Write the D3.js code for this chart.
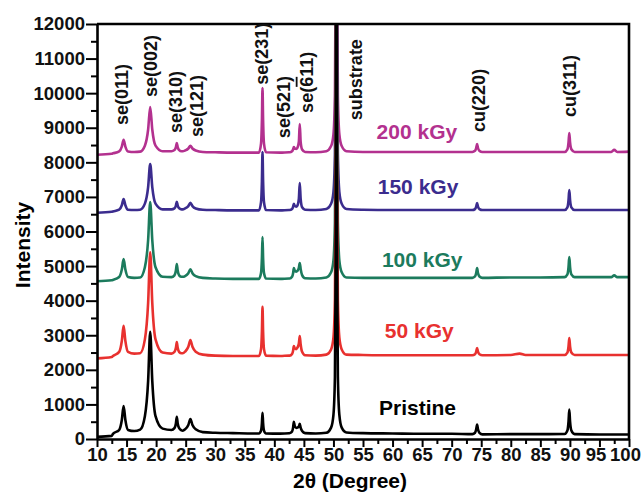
<!DOCTYPE html>
<html>
<head>
<meta charset="utf-8">
<script src="https://cdn.jsdelivr.net/npm/d3@7"></script>
<style>
  body { margin: 0; background: #fff; }
  svg { display: block; font-family: "Liberation Sans", Arial, sans-serif; }
  .axis path, .axis line { stroke: #000; }
  .axis .domain { stroke-width: 2.6; }
  .axis .tick line { stroke-width: 2; }
  .axis .tick text { font-size: 18.5px; font-weight: bold; fill: #111; }
</style>
</head>
<body>
<svg width="643" height="494"></svg>
<script>

// ---- dados: [2theta, intensidade] ----

const pristine = [
  [10,60],[12.5,90],
  [12.7,150],[13.75,262],[14.2,550],[14.5,950],[14.8,550],[15.25,262],[16.3,230],
  [17.3,270],[18.1,660],[18.65,1680],[19.0,3100],[19.35,1680],[19.9,660],[21.1,300],
  [22.6,260],[23.1,313],[23.35,450],[23.5,640],[23.65,450],[23.9,313],[24.3,250],
  [24.5,240],[24.9,280],[25.45,405],[25.8,580],[26.15,405],[26.7,280],[27.9,200],
  [30,180],[33,170],[36.5,160],
  [37.4,160],[37.75,244],[37.9,460],[38.0,760],[38.1,460],[38.25,244],[38.6,160],
  [41,155],[42.5,165],
  [42.6,170],[43.0,220],[43.18,335],[43.3,500],[43.45,380],[43.7,320],[43.9,330],[44.15,360],[44.3,440],[44.45,330],[44.7,230],[45.2,170],
  [47,160],[48.8,180],
  [49.6,330],[50.0,700],[50.25,1800],[50.38,5000],[50.44,12000],[50.5,40000],
  [50.56,12000],[50.62,5000],[50.75,1800],[51.0,700],[51.4,330],[52.2,190],
  [55,170],[60,160],[65,150],[70,150],
  [73.5,140],[73.95,180],[74.15,280],[74.3,420],[74.45,280],[74.7,180],[75.2,135],
  [80,140],[85,140],
  [89.1,145],[89.58,244],[89.77,500],[89.9,850],[90.03,500],[90.25,244],[90.8,140],
  [95,130],[100,130]
];

const kgy50 = [
  [10,2330],[12.5,2370],
  [12.7,2400],[13.75,2520],[14.2,2835],[14.5,3270],[14.8,2835],[15.25,2520],[16.3,2470],
  [17.3,2480],[18.1,2880],[18.65,3935],[19.0,5400],[19.35,3935],[19.9,2880],[21.1,2500],
  [22.6,2470],[23.1,2516],[23.35,2635],[23.5,2800],[23.65,2635],[23.9,2516],[24.3,2480],
  [24.5,2480],[24.9,2525],[25.45,2665],[25.8,2860],[26.15,2665],[26.7,2525],[27.9,2440],
  [30,2410],[33,2400],[36.5,2400],
  [37.4,2400],[37.75,2600],[37.9,3110],[38.0,3820],[38.1,3110],[38.25,2600],[38.6,2410],
  [41,2400],[42.5,2410],
  [42.6,2410],[43.0,2460],[43.18,2560],[43.3,2690],[43.45,2620],[43.7,2600],[43.9,2640],[44.15,2760],[44.3,2980],[44.45,2740],[44.7,2520],[45.2,2420],
  [47,2410],[48.8,2440],
  [49.6,2590],[50.0,2930],[50.25,4030],[50.4,8430],[50.46,17430],[50.5,32430],
  [50.54,17430],[50.6,8430],[50.75,4030],[51.0,2930],[51.4,2590],[52.2,2440],
  [55,2430],[60,2420],[65,2420],[70,2420],
  [73.5,2420],[73.95,2450],[74.15,2525],[74.3,2630],[74.45,2525],[74.7,2450],[75.2,2420],
  [80,2430],[81.5,2470],[82.5,2430],[85,2430],
  [89.1,2430],[89.58,2500],[89.77,2675],[89.9,2920],[90.03,2675],[90.25,2500],[90.8,2430],
  [95,2430],[100,2430]
];

const kgy100 = [
  [10,4560],[12.5,4590],
  [12.7,4600],[13.75,4684],[14.2,4900],[14.5,5200],[14.8,4900],[15.25,4684],[16.3,4660],
  [17.3,4670],[18.1,4967],[18.65,5755],[19.0,6850],[19.35,5755],[19.9,4967],[21.1,4690],
  [22.6,4680],[23.1,4733],[23.35,4870],[23.5,5060],[23.65,4870],[23.9,4733],[24.3,4690],
  [24.5,4690],[24.9,4712],[25.45,4795],[25.8,4910],[26.15,4795],[26.7,4712],[27.9,4660],
  [30,4640],[33,4630],[36.5,4630],
  [37.4,4630],[37.75,4800],[37.9,5235],[38.0,5840],[38.1,5235],[38.25,4800],[38.6,4640],
  [41,4630],[42.5,4640],
  [42.6,4640],[43.0,4690],[43.18,4800],[43.3,4940],[43.45,4870],[43.7,4840],[43.9,4860],[44.15,4950],[44.3,5090],[44.45,4920],[44.7,4740],[45.2,4650],
  [47,4640],[48.8,4670],
  [49.6,4820],[50.0,5160],[50.25,6260],[50.4,10660],[50.46,19660],[50.5,34660],
  [50.54,19660],[50.6,10660],[50.75,6260],[51.0,5160],[51.4,4820],[52.2,4670],
  [55,4660],[60,4660],[65,4660],[70,4660],
  [73.5,4660],[73.95,4700],[74.15,4800],[74.3,4940],[74.45,4800],[74.7,4700],[75.2,4660],
  [80,4670],[85,4670],
  [89.1,4680],[89.58,4760],[89.77,4970],[89.9,5260],[90.03,4970],[90.25,4760],[90.8,4680],
  [95,4680],[97,4680],[97.5,4730],[98,4680],[100,4680]
];

const kgy150 = [
  [10,6540],[12.5,6570],
  [12.7,6580],[13.75,6630],[14.2,6760],[14.5,6940],[14.8,6760],[15.25,6630],[16.3,6620],
  [17.3,6630],[18.1,6806],[18.65,7285],[19.0,7950],[19.35,7285],[19.9,6806],[21.1,6640],
  [22.6,6640],[23.1,6670],[23.35,6750],[23.5,6860],[23.65,6750],[23.9,6670],[24.3,6640],
  [24.5,6640],[24.9,6667],[25.45,6735],[25.8,6830],[26.15,6735],[26.7,6667],[27.9,6630],
  [30,6620],[33,6610],[36.5,6610],
  [37.4,6610],[37.75,6847],[37.9,7455],[38.0,8300],[38.1,7455],[38.25,6847],[38.6,6620],
  [41,6610],[42.5,6620],
  [42.6,6620],[43.0,6650],[43.18,6720],[43.3,6800],[43.45,6740],[43.7,6720],[43.9,6750],[44.15,6950],[44.3,7400],[44.45,6950],[44.7,6700],[45.2,6630],
  [47,6620],[48.8,6650],
  [49.6,6800],[50.0,7140],[50.25,8240],[50.4,12640],[50.46,21640],[50.5,36640],
  [50.54,21640],[50.6,12640],[50.75,8240],[51.0,7140],[51.4,6800],[52.2,6650],
  [55,6630],[60,6620],[65,6620],[70,6620],
  [73.5,6620],[73.95,6648],[74.15,6720],[74.3,6820],[74.45,6720],[74.7,6648],[75.2,6620],
  [80,6620],[85,6620],
  [89.1,6620],[89.58,6700],[89.77,6910],[89.9,7200],[90.03,6910],[90.25,6700],[90.8,6620],
  [95,6620],[100,6620]
];

const kgy200 = [
  [10,8220],[12.5,8250],
  [12.7,8260],[13.75,8315],[14.2,8455],[14.5,8650],[14.8,8455],[15.25,8315],[16.3,8300],
  [17.3,8310],[18.1,8482],[18.65,8950],[19.0,9600],[19.35,8950],[19.9,8482],[21.1,8320],
  [22.6,8320],[23.1,8354],[23.35,8440],[23.5,8560],[23.65,8440],[23.9,8354],[24.3,8320],
  [24.5,8320],[24.9,8342],[25.45,8400],[25.8,8480],[26.15,8400],[26.7,8342],[27.9,8300],
  [30,8290],[33,8280],[36.5,8280],
  [37.4,8280],[37.75,8542],[37.9,9215],[38.0,10150],[38.1,9215],[38.25,8542],[38.6,8290],
  [41,8280],[42.5,8290],
  [42.6,8290],[43.0,8320],[43.18,8380],[43.3,8440],[43.45,8400],[43.7,8390],[43.9,8420],[44.15,8600],[44.3,9110],[44.45,8600],[44.7,8370],[45.2,8300],
  [47,8290],[48.8,8320],
  [49.6,8470],[50.0,8810],[50.25,9910],[50.4,14310],[50.46,23310],[50.5,38310],
  [50.54,23310],[50.6,14310],[50.75,9910],[51.0,8810],[51.4,8470],[52.2,8320],
  [55,8300],[60,8300],[65,8300],[70,8300],
  [73.5,8300],[73.95,8332],[74.15,8415],[74.3,8530],[74.45,8415],[74.7,8332],[75.2,8300],
  [80,8300],[85,8300],
  [89.1,8300],[89.58,8377],[89.77,8575],[89.9,8850],[90.03,8575],[90.25,8377],[90.8,8300],
  [95,8300],[97,8300],[97.5,8360],[98,8300],[100,8310]
];

// ordem de desenho: de cima para baixo, pristine por ultimo (fica na frente)
const seriesNames = ["200 kGy", "150 kGy", "100 kGy", "50 kGy", "Pristine"];
const seriesData  = [kgy200, kgy150, kgy100, kgy50, pristine];
// onde fica o rotulo de cada serie [2theta, intensidade]
const seriesLabelAt = [[57.3, 8680], [57.5, 7070], [58.2, 4980], [58.7, 2920], [57.7, 694]];

const xTicks = [10,15,20,25,30,35,40,45,50,55,60,65,70,75,80,85,90,95,100];
const xMinorTicks = [12.5,17.5,22.5,27.5,32.5,37.5,42.5,47.5,52.5,57.5,62.5,67.5,72.5,77.5,82.5,87.5,92.5,97.5];
const yTicks = [0,1000,2000,3000,4000,5000,6000,7000,8000,9000,10000,11000,12000];
const yMinorTicks = [500,1500,2500,3500,4500,5500,6500,7500,8500,9500,10500,11500];

// picos indexados: texto, 2theta do rotulo, intensidade da base do rotulo
const peakLabels = ["se(011)", "se(002)", "se(310)", "se(121)", "se(231)", "se(521)", "se(611)", "substrate", "cu(220)", "cu(311)"];
const peakLabelTheta = [14.2, 19.0, 23.2, 26.9, 37.9, 41.5, 45.4, 53.7, 74.5, 90.0];
const peakLabelBase = [9080, 9890, 8850, 8730, 10240, 8700, 9430, 9220, 8880, 9310];

const vis = {

    params : {
        largura: 643,
        altura: 494,
        margem: { left: 97, right: 14, top: 24, bottom: 55 },
        cores: ["#b3318f", "#3b2c8e", "#1c7b5d", "#e8312f", "#000000"],
        espessura: 2.6
    },

    scales : { x: null, y: null },

    draw : {

        eixos : function(svg) {

            const x = vis.scales.x, y = vis.scales.y;

            const eixoX = svg.append("g").attr("class", "axis")
              .attr("transform", `translate(0,${y(0)})`)
              .call(d3.axisBottom(x).tickValues(xTicks).tickSize(8).tickPadding(1).tickSizeOuter(0));

            // os dois ultimos rotulos ficam apertados na borda
            eixoX.selectAll(".tick text")
              .attr("dx", d => d >= 95 ? -4 : 0);

            svg.append("g").attr("class", "axis")
              .attr("transform", `translate(0,${y(0)})`)
              .call(d3.axisBottom(x).tickValues(xMinorTicks).tickSize(5).tickFormat("").tickSizeOuter(0))
              .select(".domain").remove();

            svg.append("g").attr("class", "axis")
              .attr("transform", `translate(${x(10)},0)`)
              .call(d3.axisLeft(y).tickValues(yTicks).tickSize(11).tickPadding(1).tickSizeOuter(0).tickFormat(d3.format("d")));

            svg.append("g").attr("class", "axis")
              .attr("transform", `translate(${x(10)},0)`)
              .call(d3.axisLeft(y).tickValues(yMinorTicks).tickSize(6).tickFormat("").tickSizeOuter(0))
              .select(".domain").remove();

            // moldura de cima e da direita
            svg.append("path")
              .attr("d", `M${x(10)},${y(12000)}H${x(100)}V${y(0)}`)
              .attr("fill", "none")
              .attr("stroke", "#000")
              .attr("stroke-width", 2.6);

            svg.append("text")
              .attr("x", (x(10) + x(100)) / 2 - 13)
              .attr("y", 488)
              .attr("text-anchor", "middle")
              .attr("font-size", 21)
              .attr("font-weight", "bold")
              .text("2θ (Degree)");

            svg.append("text")
              .attr("transform", `translate(30,245) rotate(-90)`)
              .attr("text-anchor", "middle")
              .attr("font-size", 21)
              .attr("font-weight", "bold")
              .text("Intensity");
        },

        curvas : function(svg) {

            const x = vis.scales.x, y = vis.scales.y;

            svg.append("clipPath").attr("id", "area")
              .append("rect")
              .attr("x", x(10)).attr("y", y(12000))
              .attr("width", x(100) - x(10)).attr("height", y(0) - y(12000));

            const linha = d3.line()
              .x(d => x(d[0]))
              .y(d => y(d[1]))
              .curve(d3.curveMonotoneX);

            svg.append("g")
              .attr("clip-path", "url(#area)")
              .selectAll("path")
              .data(seriesData)
              .join("path")
              .attr("d", linha)
              .attr("fill", "none")
              .attr("stroke", (d, i) => vis.params.cores[i])
              .attr("stroke-width", vis.params.espessura)
              .attr("stroke-linejoin", "round");

            svg.append("g")
              .selectAll("text")
              .data(seriesNames)
              .join("text")
              .attr("x", (d, i) => x(seriesLabelAt[i][0]))
              .attr("y", (d, i) => y(seriesLabelAt[i][1]))
              .attr("font-size", 21)
              .attr("font-weight", "bold")
              .attr("fill", (d, i) => vis.params.cores[i])
              .text(d => d);
        },

        rotulos : function(svg) {

            const x = vis.scales.x, y = vis.scales.y;

            const t = svg.append("g")
              .selectAll("text")
              .data(peakLabels)
              .join("text")
              .attr("transform", (d, i) => `translate(${x(peakLabelTheta[i])},${y(peakLabelBase[i])}) rotate(-90)`)
              .attr("dy", "0.36em")
              .attr("font-size", 18)
              .attr("font-weight", "bold")
              .attr("fill", "#111");

            t.each(function(d) {
                const el = d3.select(this);
                if (d === "se(611)") {
                    el.append("tspan").text("se(");
                    el.append("tspan").style("text-decoration", "overline").text("6");
                    el.append("tspan").text("11)");
                } else {
                    el.text(d);
                }
            });
        }
    },

    control : {

        init : function() {

            const p = vis.params;
            const svg = d3.select("svg");

            vis.scales.x = d3.scaleLinear().domain([10, 100]).range([p.margem.left, p.largura - p.margem.right]);
            vis.scales.y = d3.scaleLinear().domain([0, 12000]).range([p.altura - p.margem.bottom, p.margem.top]);

            vis.draw.curvas(svg);
            vis.draw.eixos(svg);
            vis.draw.rotulos(svg);
        }
    }
};

vis.control.init();
</script>
</body>
</html>
